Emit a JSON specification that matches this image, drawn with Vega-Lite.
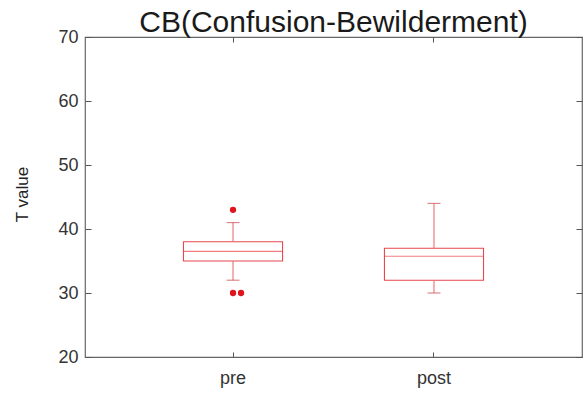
{
  "$schema": "https://vega.github.io/schema/vega-lite/v6.json",
  "width": 497,
  "height": 320,
  "autosize": {"type": "none"},
  "padding": {"left": 85, "top": 37, "right": 5, "bottom": 37},
  "background": "white",
  "config": {
    "font": "Liberation Sans",
    "view": {"stroke": "#666", "strokeWidth": 1.2},
    "axis": {
      "domain": false,
      "grid": false,
      "tickColor": "#555",
      "labelColor": "#333",
      "labelFont": "Liberation Sans",
      "labelFontSize": 18,
      "titleFont": "Liberation Sans",
      "titleFontWeight": "normal",
      "titleColor": "#222"
    }
  },
  "title": {
    "text": "CB(Confusion-Bewilderment)",
    "fontSize": 30,
    "fontWeight": "normal",
    "color": "#1a1a1a",
    "anchor": "middle",
    "baseline": "bottom",
    "offset": 0,
    "dy": 40
  },
  "datasets": {
    "groups": [
      {"phase": "pre", "lower": 32, "q1": 35, "median": 36.5, "q3": 38, "upper": 41},
      {"phase": "post", "lower": 30, "q1": 32, "median": 35.75, "q3": 37, "upper": 44}
    ],
    "outliers": [
      {"phase": "pre", "value": 43, "dup": 0},
      {"phase": "pre", "value": 30, "dup": 0},
      {"phase": "pre", "value": 30, "dup": 1}
    ]
  },
  "resolve": {"axis": {"x": "independent", "y": "independent"}},
  "layer": [
    {
      "data": {"name": "groups"},
      "mark": {"type": "bar", "fill": "white", "stroke": "#e8474c", "strokeWidth": 1.1},
      "encoding": {
        "x": {
          "field": "phase", "type": "nominal", "sort": ["pre", "post"],
          "scale": {"type": "band", "domain": ["pre", "post"], "paddingInner": 0.507, "paddingOuter": 0.49},
          "axis": {"title": null, "orient": "bottom", "labelAngle": 0, "tickSize": -5, "labelPadding": 17}
        },
        "y": {
          "field": "q1", "type": "quantitative",
          "scale": {"domain": [20, 70], "nice": false, "zero": false},
          "axis": {
            "title": "T value", "orient": "left", "values": [20, 30, 40, 50, 60, 70],
            "tickSize": -6, "labelPadding": 13, "titleFontSize": 17,
            "titleX": -63, "titleY": 157, "titleAngle": -90, "titleAlign": "center", "titleBaseline": "middle"
          }
        },
        "y2": {"field": "q3"}
      }
    },
    {
      "data": {"name": "groups"},
      "mark": {"type": "tick", "color": "#e8474c", "thickness": 1.1, "size": 99},
      "encoding": {
        "x": {"field": "phase", "type": "nominal", "sort": ["pre", "post"], "axis": {"orient": "top", "labels": false, "title": null, "tickSize": -5}},
        "y": {"field": "median", "type": "quantitative", "axis": {"orient": "right", "labels": false, "title": null, "values": [20, 30, 40, 50, 60, 70], "tickSize": -6}}
      }
    },
    {
      "data": {"name": "groups"},
      "mark": {"type": "rule", "color": "#ee6f72", "strokeWidth": 1.1},
      "encoding": {
        "x": {"field": "phase", "type": "nominal", "sort": ["pre", "post"], "axis": null},
        "y": {"field": "q3", "type": "quantitative", "axis": null},
        "y2": {"field": "upper"}
      }
    },
    {
      "data": {"name": "groups"},
      "mark": {"type": "rule", "color": "#ee6f72", "strokeWidth": 1.1},
      "encoding": {
        "x": {"field": "phase", "type": "nominal", "sort": ["pre", "post"], "axis": null},
        "y": {"field": "lower", "type": "quantitative", "axis": null},
        "y2": {"field": "q1"}
      }
    },
    {
      "data": {"name": "groups"},
      "mark": {"type": "tick", "color": "#c9484c", "thickness": 1.1, "size": 13},
      "encoding": {
        "x": {"field": "phase", "type": "nominal", "sort": ["pre", "post"], "axis": null},
        "y": {"field": "upper", "type": "quantitative", "axis": null}
      }
    },
    {
      "data": {"name": "groups"},
      "mark": {"type": "tick", "color": "#c9484c", "thickness": 1.1, "size": 13},
      "encoding": {
        "x": {"field": "phase", "type": "nominal", "sort": ["pre", "post"], "axis": null},
        "y": {"field": "lower", "type": "quantitative", "axis": null}
      }
    },
    {
      "data": {"name": "outliers"},
      "transform": [{"filter": "datum.dup == 0"}],
      "mark": {"type": "point", "filled": true, "color": "#e0141c", "size": 40, "opacity": 1},
      "encoding": {
        "x": {"field": "phase", "type": "nominal", "sort": ["pre", "post"], "axis": null},
        "y": {"field": "value", "type": "quantitative", "axis": null}
      }
    },
    {
      "data": {"name": "outliers"},
      "transform": [{"filter": "datum.dup == 1"}],
      "mark": {"type": "point", "filled": true, "color": "#e0141c", "size": 40, "opacity": 1, "xOffset": 8},
      "encoding": {
        "x": {"field": "phase", "type": "nominal", "sort": ["pre", "post"], "axis": null},
        "y": {"field": "value", "type": "quantitative", "axis": null}
      }
    }
  ]
}
